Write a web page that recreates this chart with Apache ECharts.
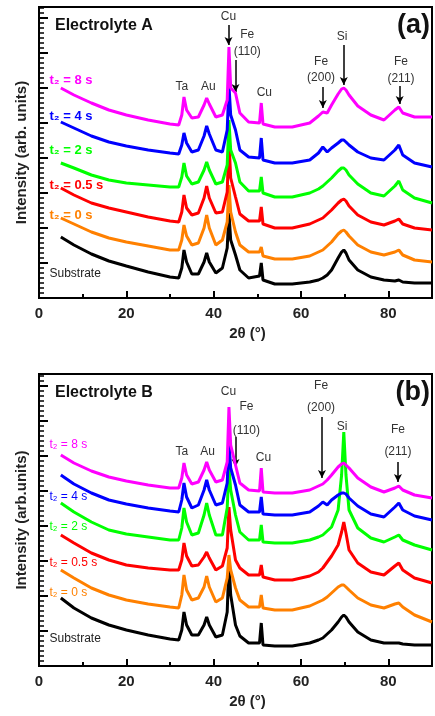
<!DOCTYPE html>
<html>
<head>
<meta charset="utf-8">
<script src="https://cdn.jsdelivr.net/npm/echarts@6/dist/echarts.min.js"></script>
<style>
  html, body { margin: 0; padding: 0; background: #fff; }
  #chart { width: 435px; height: 716px; }
</style>
</head>
<body>
<div id="chart"></div>
<script>
// 2theta positions (deg) shared by every pattern
const twoTheta = [5, 8, 12, 16, 20, 25, 30, 32, 32.7, 33.2, 33.8, 35, 36.5, 37.8, 38.4, 39, 40.5, 42, 43.1, 43.5, 43.9, 45, 46, 48, 50.5, 50.9, 51.3, 54, 58, 62, 64, 65, 66, 67, 68.5, 69.3, 69.8, 70.3, 71, 73, 76, 79, 81.5, 82.4, 83.3, 86, 90];

// Electrolyte A (stacked intensities, arb. units)
const aSubstrate = [61, 53, 44, 37, 32, 26, 21, 20, 30, 48, 36, 24, 24, 36, 45, 36, 25, 30, 50, 85, 58, 43, 28, 20, 22, 35, 18, 14, 14, 16, 18, 20, 23, 28, 40, 46, 48, 45, 38, 28, 21, 18, 17, 18, 16, 15, 15];
const aT0 = [80, 74, 66, 60, 56, 52, 48, 48, 58, 73, 62, 53, 55, 70, 83, 70, 53, 58, 76, 113, 86, 66, 53, 46, 46, 51, 42, 39, 39, 42, 46, 48, 52, 56, 64, 67, 68, 66, 62, 53, 46, 43, 46, 48, 43, 38, 36];
const aT05 = [110, 103, 95, 90, 86, 81, 77, 76, 86, 103, 90, 83, 85, 100, 112, 100, 85, 86, 106, 158, 120, 101, 84, 77, 77, 91, 74, 70, 70, 74, 78, 80, 84, 88, 95, 98, 99, 97, 92, 83, 76, 73, 77, 79, 74, 70, 68];
const aT2 = [135, 130, 123, 118, 115, 113, 111, 111, 121, 135, 122, 114, 116, 128, 136, 128, 114, 116, 133, 178, 148, 135, 116, 107, 107, 121, 105, 101, 101, 105, 109, 112, 116, 120, 127, 130, 130, 128, 123, 114, 105, 102, 112, 117, 108, 100, 95];
const aT4 = [176, 170, 162, 156, 152, 148, 145, 144, 153, 165, 155, 146, 148, 162, 172, 164, 148, 146, 168, 213, 183, 168, 148, 141, 140, 160, 138, 135, 135, 138, 145, 151, 146, 150, 155, 158, 158, 156, 153, 146, 140, 138, 148, 153, 143, 135, 131];
const aT8 = [210, 203, 195, 188, 183, 178, 174, 173, 183, 201, 188, 180, 181, 193, 200, 194, 181, 183, 198, 251, 210, 205, 185, 176, 175, 195, 174, 171, 171, 175, 182, 186, 185, 193, 204, 209, 210, 208, 203, 192, 183, 178, 188, 191, 185, 181, 181];

// Electrolyte B
const bSubstrate = [68, 58, 48, 41, 36, 31, 27, 26, 36, 54, 41, 31, 31, 41, 49, 41, 29, 31, 54, 104, 71, 41, 30, 23, 23, 43, 21, 20, 20, 23, 26, 28, 32, 36, 44, 49, 51, 49, 44, 34, 26, 23, 23, 23, 22, 21, 21];
const bT0 = [96, 88, 78, 71, 66, 62, 59, 58, 71, 91, 76, 66, 68, 79, 90, 79, 64, 68, 88, 111, 96, 78, 66, 59, 59, 71, 58, 56, 56, 60, 64, 66, 69, 73, 79, 81, 81, 79, 76, 68, 61, 58, 62, 63, 59, 51, 44];
const bT05 = [131, 123, 113, 106, 101, 98, 96, 96, 106, 123, 110, 100, 101, 109, 114, 108, 96, 100, 118, 159, 136, 106, 98, 91, 91, 101, 89, 86, 86, 90, 94, 98, 104, 110, 121, 134, 144, 133, 116, 103, 94, 91, 100, 103, 96, 88, 83];
const bT2 = [163, 154, 144, 136, 132, 129, 126, 126, 138, 158, 144, 131, 133, 151, 163, 151, 131, 131, 158, 198, 176, 151, 134, 126, 126, 141, 124, 123, 123, 126, 129, 131, 135, 139, 156, 191, 234, 191, 156, 138, 128, 124, 129, 131, 126, 121, 116];
const bT4 = [191, 182, 173, 166, 162, 158, 155, 154, 166, 183, 169, 158, 161, 176, 186, 176, 161, 163, 183, 224, 198, 181, 161, 154, 154, 169, 152, 151, 151, 154, 160, 164, 161, 166, 171, 173, 173, 172, 168, 160, 152, 149, 159, 163, 156, 150, 146];
const bT8 = [211, 203, 195, 189, 185, 181, 178, 178, 188, 203, 191, 182, 184, 196, 204, 196, 184, 186, 204, 259, 221, 201, 183, 176, 175, 198, 174, 173, 173, 176, 180, 182, 186, 191, 199, 202, 203, 201, 198, 188, 179, 174, 178, 180, 176, 171, 168];

const sampleNames = ['Substrate', 't₂ = 0 s', 't₂ = 0.5 s', 't₂ = 2 s', 't₂ = 4 s', 't₂ = 8 s'];
const xMin = 0, xMax = 90, xStep = 20;

const colors = ['#000000', '#ff8000', '#ff0000', '#00ff00', '#0000ff', '#ff00ff'];
const panels = [
  { grid: { left: 39, top: 7, width: 394, height: 291 }, yMax: 291,
    rows: [aSubstrate, aT0, aT05, aT2, aT4, aT8] },
  { grid: { left: 39, top: 374, width: 394, height: 292 }, yMax: 292,
    rows: [bSubstrate, bT0, bT05, bT2, bT4, bT8] }
];

// arrows [x, yFrom, yTo] per panel
const arrows = [
  [[43.4, 273, 253], [45.0, 238, 206], [65.0, 211, 190], [69.8, 253, 213], [82.6, 212, 194]],
  [[45.0, 229, 199], [64.8, 249, 188], [82.2, 204, 184]]
];
// peak names [text, x, y]
const peakText = [
  [['Ta', 32.7, 211], ['Au', 38.8, 211], ['Cu', 43.4, 281], ['Fe', 47.7, 263], ['(110)', 47.7, 246],
   ['Cu', 51.6, 205], ['Fe', 64.6, 236], ['(200)', 64.6, 220], ['Si', 69.4, 261], ['Fe', 82.9, 236], ['(211)', 82.9, 219]],
  [['Ta', 32.7, 214], ['Au', 38.6, 214], ['Cu', 43.4, 274], ['Fe', 47.5, 259], ['(110)', 47.5, 235],
   ['Cu', 51.4, 208], ['Fe', 64.6, 280], ['(200)', 64.6, 258], ['Si', 69.4, 239], ['Fe', 82.2, 236], ['(211)', 82.2, 214]]
];
// sample label anchor heights per panel
const sampleLabelY = [
  [24, 83, 113, 148, 182, 218],
  [27, 73, 103, 139, 169, 221]
];
const titles = ['Electrolyte A', 'Electrolyte B'];
const tags = ['(a)', '(b)'];

const chart = echarts.init(document.getElementById('chart'));

const font = 'Arial, "Liberation Sans", sans-serif';
const option = {
  animation: false,
  grid: panels.map(p => Object.assign({ show: true, borderColor: '#000', borderWidth: 2 }, p.grid)),
  xAxis: panels.map((p, i) => ({
    type: 'value', gridIndex: i, min: xMin, max: xMax, interval: xStep,
    name: '2θ (°)', nameLocation: 'middle', nameGap: 28,
    nameTextStyle: { fontFamily: font, fontWeight: 'bold', fontSize: 15, color: '#222', padding: [0, 0, 0, 24] },
    axisLine: { lineStyle: { color: '#000', width: 2 } },
    axisTick: { inside: true, length: 7, lineStyle: { color: '#000', width: 2 } },
    minorTick: { show: true, splitNumber: 2, length: 4, lineStyle: { color: '#000', width: 2 } },
    axisLabel: { margin: 8, fontFamily: font, fontWeight: 'bold', fontSize: 15, color: '#222',
      formatter: v => v > 85 ? '' : v },
    splitLine: { show: false }
  })),
  yAxis: panels.map((p, i) => ({
    type: 'value', gridIndex: i, min: 0, max: p.yMax, interval: 35,
    name: i === 0 ? 'Intensity (arb. units)' : 'Intensity (arb.units)',
    nameLocation: 'middle', nameGap: 10,
    nameTextStyle: { fontFamily: font, fontWeight: 'bold', fontSize: 15, color: '#222' },
    axisLine: { lineStyle: { color: '#000', width: 2 } },
    axisTick: { inside: true, length: 9, lineStyle: { color: '#000', width: 2 } },
    minorTick: { show: true, splitNumber: 7, length: 5, lineStyle: { color: '#000', width: 1.5 } },
    axisLabel: { show: false },
    splitLine: { show: false }
  })),
  series: []
};

panels.forEach((p, i) => {
  p.rows.forEach((row, k) => {
    option.series.push({
      type: 'line', name: sampleNames[k], xAxisIndex: i, yAxisIndex: i,
      data: twoTheta.map((t, j) => [t, row[j]]),
      showSymbol: false, smooth: false,
      lineStyle: { color: colors[k], width: 3 },
      z: 2 + k
    });
  });
  option.series.push({
    type: 'line', xAxisIndex: i, yAxisIndex: i, data: [], silent: true, z: 10,
    markLine: {
      silent: true, symbol: ['none', 'arrow'], symbolSize: [6, 8],
      lineStyle: { color: '#000', width: 1.5, type: 'solid' },
      label: { show: false },
      data: arrows[i].map(a => [{ coord: [a[0], a[1]] }, { coord: [a[0], a[2]] }])
    }
  });
});

chart.setOption(option);

// text annotations placed through the axes
const graphic = [];
panels.forEach((p, i) => {
  const toPx = (x, y) => chart.convertToPixel({ gridIndex: i }, [x, y]);
  peakText[i].forEach(([t, x, y]) => {
    const [px, py] = toPx(x, y);
    graphic.push({ type: 'text', x: px, y: py, z: 20,
      style: { text: t, fill: '#333', font: '12px ' + font, textAlign: 'center', textVerticalAlign: 'middle' } });
  });
  sampleNames.forEach((t, k) => {
    const [px, py] = toPx(2.4, sampleLabelY[i][k]);
    const bold = i === 0 && k > 0;
    graphic.push({ type: 'text', x: px, y: py, z: 20,
      style: { text: t, fill: k === 0 ? '#222' : colors[k],
        font: (bold ? 'bold 13px ' : '12px ') + font, textAlign: 'left', textVerticalAlign: 'middle' } });
  });
  const g = p.grid;
  graphic.push({ type: 'text', x: g.left + 16, y: g.top + 19, z: 20,
    style: { text: titles[i], fill: '#111', font: 'bold 16px ' + font, textAlign: 'left', textVerticalAlign: 'middle' } });
  graphic.push({ type: 'text', x: g.left + g.width - 3, y: g.top + 19, z: 20,
    style: { text: tags[i], fill: '#111', font: 'bold 27px ' + font, textAlign: 'right', textVerticalAlign: 'middle' } });
});
chart.setOption({ graphic: graphic });

window.addEventListener('resize', () => chart.resize());
</script>
</body>
</html>
